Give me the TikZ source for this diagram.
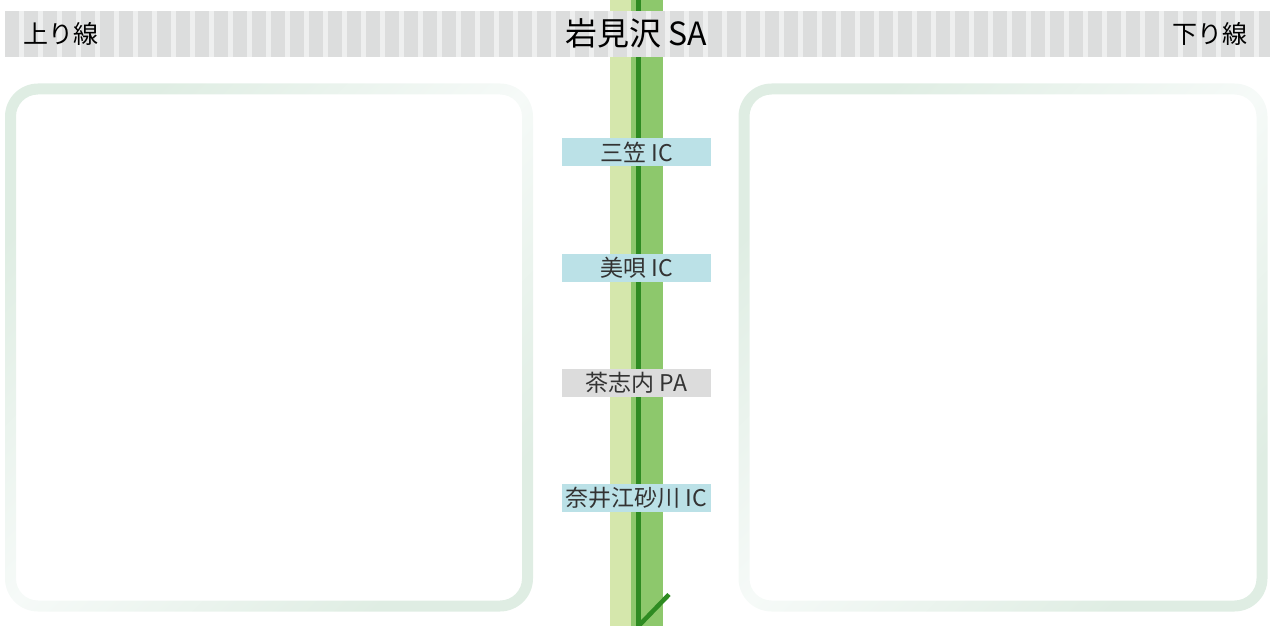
\documentclass[tikz,border=0pt]{standalone}
\usepackage{fontspec}
\setmainfont{Noto Sans CJK JP}
\definecolor{stripedark}{HTML}{DCDDDD}
\definecolor{stripelight}{HTML}{EEEFEF}
\definecolor{roadlight}{HTML}{D5E7AC}
\definecolor{roadgreen}{HTML}{8DC86C}
\definecolor{roaddark}{HTML}{2E8B22}
\definecolor{icblue}{HTML}{BBE1E7}
\definecolor{pagray}{HTML}{DCDCDC}
\definecolor{panelgreen}{HTML}{DFEDE3}
\definecolor{panellight}{HTML}{F6FAF8}
\definecolor{labeltext}{HTML}{333333}

\begin{document}
\begin{tikzpicture}[x=1pt,y=-1pt,line width=0.8pt,
  station/.style={minimum width=149pt,minimum height=28pt,inner sep=0pt,
    text=labeltext,font=\fontsize{23}{23}\selectfont},
  icbox/.style={station,fill=icblue},
  pabox/.style={station,fill=pagray},
  sidelabel/.style={font=\fontsize{25}{25}\selectfont},
  panel/.style={even odd rule,top color=panelgreen,bottom color=panelgreen,
    middle color=panellight,shading angle=45,rounded corners=33pt}]
\useasboundingbox (0,0) rectangle (1275,626);
% ---- road ----
\fill[roadlight] (610,0) rectangle (631,626);
\fill[roadgreen] (631,0) rectangle (663,626);
\draw[roaddark,line width=5pt] (638.5,0) -- (638.5,626);
\coordinate (roadend) at (638.5,626);
\coordinate (turn) at (669,594.5);
\draw[roaddark,line width=4.5pt] (roadend) -- (turn);
% ---- striped header band ----
\fill[stripedark] (5,11) rectangle (1270,57);
\foreach \k in {1,...,66}
  \fill[stripelight] (19*\k,11) rectangle (19*\k+4.5,57);
\node[sidelabel,anchor=west] (up) at (20,34) {上り線};
\node[sidelabel,anchor=east] (down) at (1251,34) {下り線};
\node[font=\fontsize{32}{32}\selectfont] (sa) at (636,33) {岩見沢 SA};
% ---- side panels ----
\shade[panel] (5,83.5) rectangle (533,611.5)
  [rounded corners=22pt] (16,94.5) rectangle (522,600.5);
\shade[panel] (738.5,83.5) rectangle (1267.5,611.5)
  [rounded corners=22pt] (749.5,94.5) rectangle (1256.5,600.5);
% ---- stations ----
\node[icbox] (mikasa) at (636.5,152) {三笠 IC};
\node[icbox] (bibai) at (636.5,267.5) {美唄 IC};
\node[pabox] (chashinai) at (636.5,383) {茶志内 PA};
\node[icbox] (naie) at (636.5,498) {奈井江砂川 IC};
\end{tikzpicture}
\end{document}
